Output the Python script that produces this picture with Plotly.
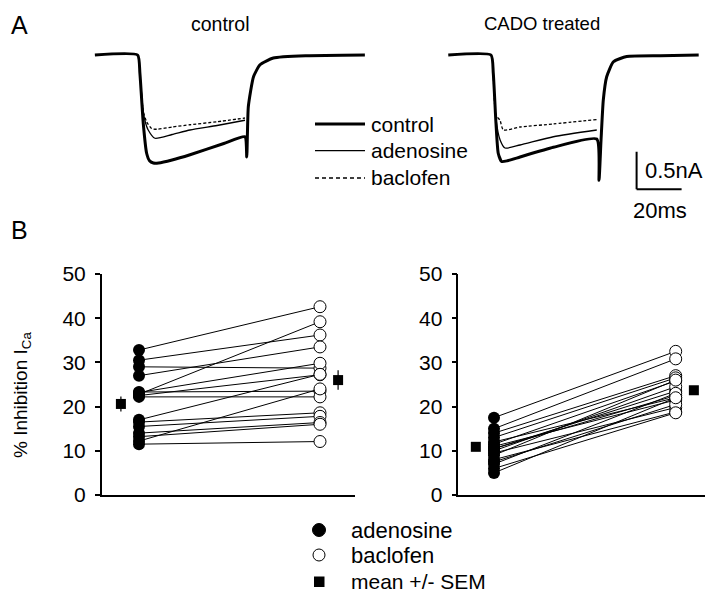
import plotly.graph_objects as go

# ---------------- Panel A: current traces (time in ms, current in nA) ----------------
ctrl_L_t = [-19.3, -0.3, 0.7, 2.2, 3.7, 5.0, 6.7, 9, 15, 23, 38, 47.4, 48.2, 48.9, 51.2, 54.1, 60, 74.8, 100.7]
ctrl_L_i = [0.0, 0.0, -0.24, -0.91, -1.31, -1.41, -1.44, -1.44, -1.40, -1.33, -1.18, -1.09, -1.36, -0.69, -0.29, -0.13, -0.04, -0.01, 0.0]
aden_L_t = [0.7, 2.2, 3.0, 4.4, 7.4, 15, 23, 35, 47.4]
aden_L_i = [-0.24, -0.75, -0.88, -1.0, -1.11, -1.06, -1.0, -0.94, -0.87]
bacl_L_t = [0.7, 2.2, 3.7, 5.9, 8.2, 15, 23, 35, 47.4]
bacl_L_i = [-0.24, -0.75, -0.89, -0.98, -0.99, -0.96, -0.93, -0.89, -0.84]

ctrl_R_t = [-19.3, -0.3, 0.7, 1.9, 2.9, 4.4, 7, 12.6, 27.4, 46.7, 47.7, 48.6, 49.6, 51.1, 54.1, 60, 75, 92]
ctrl_R_i = [0.0, 0.0, -0.24, -0.91, -1.31, -1.42, -1.41, -1.36, -1.23, -1.12, -1.67, -1.13, -0.6, -0.29, -0.09, -0.02, -0.01, 0.0]
aden_R_t = [0.7, 1.9, 3.7, 5.9, 12.6, 27.4, 46.7]
aden_R_i = [-0.24, -0.85, -1.13, -1.24, -1.20, -1.09, -1.0]
bacl_R_t = [0.7, 1.9, 3.7, 5.2, 12.6, 27.4, 46.7]
bacl_R_i = [-0.24, -0.8, -0.87, -1.0, -0.96, -0.92, -0.86]

scale_ms = 20
scale_nA = 0.5

# ---------------- Panel B: % inhibition ----------------
aden_ctrl = [32.8, 30.5, 29.0, 27.0, 23.2, 22.8, 22.5, 23.3, 22.2, 17.0, 16.5, 15.5, 14.0, 13.2, 12.2, 11.5]
bacl_ctrl = [42.6, 36.2, 28.7, 33.5, 29.8, 39.2, 27.2, 23.5, 22.2, 27.3, 18.6, 17.8, 16.4, 16.0, 24.0, 12.1]
mean_ctrl = [20.6, 26.0]
sem_ctrl = [1.7, 2.2]

aden_cado = [17.5, 15.0, 14.0, 13.0, 12.0, 11.5, 11.0, 10.5, 10.5, 10.0, 9.5, 9.0, 8.0, 7.5, 7.0, 6.0, 5.0]
bacl_cado = [32.5, 30.8, 27.0, 26.5, 22.0, 25.8, 21.5, 23.5, 22.5, 24.5, 19.8, 26.0, 18.8, 20.5, 23.0, 18.6, 22.0]
mean_cado = [10.9, 23.7]
sem_cado = [0.7, 0.9]

yticks = [0, 10, 20, 30, 40, 50]

W, H = 720, 594
OFF = 8  # page body margin compensation
FONT = "Liberation Sans, Arial, sans-serif"

def px(x):
    return (x - OFF) / W

def py(y):
    return 1 - (y - OFF) / H

fig = go.Figure()

# Panel A traces
for (ct, ci, at, ai, bt, bi, xa, ya) in [
    (ctrl_L_t, ctrl_L_i, aden_L_t, aden_L_i, bacl_L_t, bacl_L_i, "x3", "y3"),
    (ctrl_R_t, ctrl_R_i, aden_R_t, aden_R_i, bacl_R_t, bacl_R_i, "x4", "y4"),
]:
    fig.add_trace(go.Scatter(x=bt, y=bi, mode="lines",
                             line=dict(color="black", width=1.3, dash="3px,2px", shape="spline", smoothing=0.6),
                             xaxis=xa, yaxis=ya, showlegend=False, hoverinfo="skip"))
    fig.add_trace(go.Scatter(x=at, y=ai, mode="lines",
                             line=dict(color="black", width=1.3, shape="spline", smoothing=0.6),
                             xaxis=xa, yaxis=ya, showlegend=False, hoverinfo="skip"))
    fig.add_trace(go.Scatter(x=ct, y=ci, mode="lines",
                             line=dict(color="black", width=3, shape="spline", smoothing=0.5),
                             xaxis=xa, yaxis=ya, showlegend=False, hoverinfo="skip"))

# Panel B scatter
def add_paired(aden, bacl, means, sems, xa, ya):
    lx, ly = [], []
    for a, b in zip(aden, bacl):
        lx += [0, 1, None]
        ly += [a, b, None]
    fig.add_trace(go.Scatter(x=lx, y=ly, mode="lines", line=dict(color="black", width=1),
                             xaxis=xa, yaxis=ya, showlegend=False, hoverinfo="skip", cliponaxis=False))
    fig.add_trace(go.Scatter(x=[0] * len(aden), y=aden, mode="markers",
                             marker=dict(color="black", size=12, symbol="circle", line=dict(width=0)),
                             xaxis=xa, yaxis=ya, showlegend=False, cliponaxis=False))
    fig.add_trace(go.Scatter(x=[1] * len(bacl), y=bacl, mode="markers",
                             marker=dict(color="white", size=12, symbol="circle", line=dict(color="black", width=1)),
                             xaxis=xa, yaxis=ya, showlegend=False, cliponaxis=False))
    fig.add_trace(go.Scatter(x=[-0.1, 1.1], y=means, mode="markers",
                             marker=dict(color="black", size=10, symbol="square"),
                             error_y=dict(type="data", array=sems, color="black", thickness=1.2, width=0),
                             xaxis=xa, yaxis=ya, showlegend=False, cliponaxis=False))

add_paired(aden_ctrl, bacl_ctrl, mean_ctrl, sem_ctrl, "x", "y")
add_paired(aden_cado, bacl_cado, mean_cado, sem_cado, "x2", "y2")

yax = dict(range=[0, 50], tickvals=yticks, showline=True, linecolor="black", linewidth=1.5,
           ticks="outside", ticklen=5, tickwidth=1.5, tickcolor="black", showgrid=False, zeroline=False,
           tickfont=dict(size=21, color="black", family=FONT), ticklabelstandoff=5, automargin=False)
xax = dict(showline=True, linecolor="black", linewidth=1.5, showticklabels=False, ticks="",
           showgrid=False, zeroline=False, automargin=False)

# panel A axis ranges: 2.25 px per ms, 75 px per nA
L_x0, L_x1 = 90, 370
R_x0, R_x1 = 440, 710
A_y0, A_y1 = 40, 200
L_step, R_step, base_y = 138.3, 491.7, 55
pms, pnA = 2.25, 75.0

fig.update_layout(
    width=W, height=H, margin=dict(l=0, r=0, t=0, b=0, pad=0, autoexpand=False),
    paper_bgcolor="white", plot_bgcolor="white", showlegend=False,
    font=dict(family=FONT, color="black", size=19),
    xaxis=dict(domain=[px(101.7), px(355)], range=[(101.7 - 139) / 181, (355 - 139) / 181], anchor="y", **xax),
    yaxis=dict(domain=[py(495), py(274)], anchor="x", **yax),
    xaxis2=dict(domain=[px(458.3), px(705)], range=[(458.3 - 494) / 181.7, (705 - 494) / 181.7], anchor="y2", **xax),
    yaxis2=dict(domain=[py(495), py(274)], anchor="x2", **yax),
    xaxis3=dict(domain=[px(L_x0), px(L_x1)], range=[(L_x0 - L_step) / pms, (L_x1 - L_step) / pms],
                anchor="y3", visible=False),
    yaxis3=dict(domain=[py(A_y1), py(A_y0)], range=[(base_y - A_y1) / pnA, (base_y - A_y0) / pnA],
                anchor="x3", visible=False),
    xaxis4=dict(domain=[px(R_x0), px(R_x1)], range=[(R_x0 - R_step) / pms, (R_x1 - R_step) / pms],
                anchor="y4", visible=False),
    yaxis4=dict(domain=[py(A_y1), py(A_y0)], range=[(base_y - A_y1) / pnA, (base_y - A_y0) / pnA],
                anchor="x4", visible=False),
)

shapes = []
# scale bar (in right trace axis coordinates)
sb_t, sb_i = 64.4, -1.79
shapes.append(dict(type="line", xref="x4", yref="y4", x0=sb_t, x1=sb_t, y0=sb_i, y1=sb_i + scale_nA,
                   line=dict(color="black", width=2)))
shapes.append(dict(type="line", xref="x4", yref="y4", x0=sb_t, x1=sb_t + scale_ms, y0=sb_i, y1=sb_i,
                   line=dict(color="black", width=2)))
# panel A legend keys
for yy, w, d in [(124, 3, "solid"), (150.7, 1.3, "solid"), (178, 1.3, "4px,3px")]:
    shapes.append(dict(type="line", xref="paper", yref="paper", x0=px(315), x1=px(365), y0=py(yy), y1=py(yy),
                       line=dict(color="black", width=w, dash=d)))
# panel B legend keys
shapes.append(dict(type="circle", xref="paper", yref="paper", x0=px(312.5), x1=px(325.5), y0=py(536.5), y1=py(523.5),
                   fillcolor="black", line=dict(color="black", width=1)))
shapes.append(dict(type="circle", xref="paper", yref="paper", x0=px(313), x1=px(325), y0=py(561), y1=py(549),
                   fillcolor="white", line=dict(color="black", width=1)))
shapes.append(dict(type="rect", xref="paper", yref="paper", x0=px(314), x1=px(324.5), y0=py(587), y1=py(576.5),
                   fillcolor="black", line=dict(color="black", width=0)))
fig.update_layout(shapes=shapes)

ann = []
def text(x, y, s, size=19, xanchor="left", angle=0):
    ann.append(dict(x=px(x), y=py(y), xref="paper", yref="paper", text=s, showarrow=False,
                    xanchor=xanchor, yanchor="middle", textangle=angle, borderpad=0,
                    font=dict(size=size, color="black", family=FONT)))

text(10, 25, "A", size=25)
text(10, 230, "B", size=25)
text(220, 24, "control", xanchor="center", size=19.5)
text(542, 24, "CADO treated", xanchor="center", size=18.5)
text(370, 124, "control", size=21)
text(370, 151, "adenosine", size=21)
text(370, 178, "baclofen", size=21)
text(644, 170, "0.5nA", size=22)
text(632, 210, "20ms", size=22)
text(350, 530, "adenosine", size=22)
text(350, 555, "baclofen", size=22)
text(350, 581, "mean +/- SEM", size=21)
text(22, 395, "% Inhibition I<sub>Ca</sub>", xanchor="center", angle=-90, size=19)
fig.update_layout(annotations=ann)

fig.write_html("out.html")
